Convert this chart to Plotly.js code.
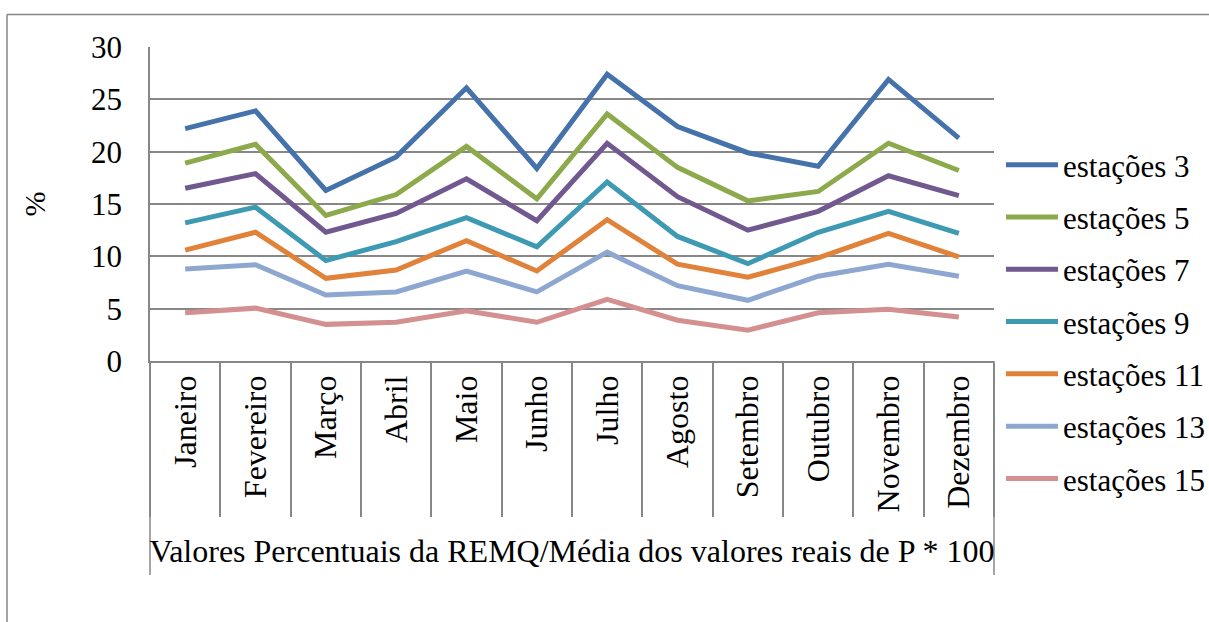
<!DOCTYPE html>
<html>
<head>
<meta charset="utf-8">
<script src="https://cdn.plot.ly/plotly-3.0.1.min.js"></script>
<style>
html,body{margin:0;padding:0;background:#fff;}
#chart{width:1209px;height:622px;}
</style>
</head>
<body>
<div id="chart"></div>
<script>
// ---- data ----
const months = ["Janeiro","Fevereiro","Março","Abril","Maio","Junho","Julho","Agosto","Setembro","Outubro","Novembro","Dezembro"];
const seriesNames = ["estações 3","estações 5","estações 7","estações 9","estações 11","estações 13","estações 15"];
const est3  = [22.2, 23.9, 16.3, 19.5, 26.1, 18.4, 27.4, 22.4, 19.9, 18.6, 26.9, 21.3];
const est5  = [18.9, 20.7, 13.9, 15.9, 20.5, 15.5, 23.6, 18.5, 15.3, 16.2, 20.8, 18.2];
const est7  = [16.5, 17.9, 12.3, 14.1, 17.4, 13.4, 20.8, 15.7, 12.5, 14.3, 17.7, 15.8];
const est9  = [13.2, 14.7,  9.6, 11.4, 13.7, 10.9, 17.1, 11.9,  9.3, 12.3, 14.3, 12.2];
const est11 = [10.6, 12.3,  7.9,  8.7, 11.5,  8.6, 13.5,  9.25, 8.0,  9.85,12.2,  9.95];
const est13 = [ 8.8,  9.2,  6.3,  6.6,  8.6,  6.6, 10.4,  7.2,  5.8,  8.1,  9.25, 8.1];
const est15 = [ 4.6,  5.05, 3.5,  3.7,  4.8,  3.7,  5.9,  3.9,  2.95, 4.6,  4.95, 4.2];
const yTicks = [0, 5, 10, 15, 20, 25, 30];
const xTitle = "Valores Percentuais da REMQ/Média dos valores reais de P * 100";
const yTitle = "%";

// ---- styling ----
const colors = ["#4572AB","#8CAA4B","#71588F","#3E9AB3","#E0823A","#8EA7D0","#D49090"];
const allSeries = [est3, est5, est7, est9, est11, est13, est15];
const FONT = "Liberation Serif, Times New Roman, serif";

const W = 1209, H = 622;
const L = 150, R = 994, T = 47, B = 361;
const px = x => (x - L) / (R - L);
const py = y => (B - y) / (B - T);

const traces = allSeries.map((vals, i) => ({
  type: "scatter",
  mode: "lines",
  x: months,
  y: vals,
  name: seriesNames[i],
  legendgroup: "g" + i,
  line: {color: colors[i], width: 5},
  hoverinfo: "x+y+name"
}));

const gray = "#878787";
const layout = {
  width: W, height: H,
  margin: {l: L, r: W - R, t: T, b: H - B, pad: 0, autoexpand: false},
  paper_bgcolor: "#ffffff",
  plot_bgcolor: "#ffffff",
  font: {family: FONT, color: "#000", size: 28},
  showlegend: true,
  legend: {
    x: px(1001), xanchor: "left",
    y: py(138), yanchor: "top",
    font: {family: FONT, size: 31, color: "#000"},
    itemwidth: 52,
    tracegroupgap: 9,
    maxheight: 600,
    bgcolor: "rgba(0,0,0,0)",
    borderwidth: 0
  },
  xaxis: {
    type: "category",
    range: [-0.5, 11.5],
    showgrid: false,
    showline: true, linecolor: gray, linewidth: 1.5,
    ticks: "outside", tickson: "boundaries", ticklen: 154, tickcolor: gray, tickwidth: 1.5,
    tickangle: -90,
    tickfont: {family: FONT, size: 32, color: "#000"},
    title: {text: xTitle, font: {family: FONT, size: 32, color: "#000"}, standoff: 28},
    fixedrange: true
  },
  yaxis: {
    range: [0, 30],
    tickvals: yTicks,
    ticktext: yTicks.map(String),
    showgrid: true, gridcolor: gray, gridwidth: 1.5,
    zeroline: false,
    showline: true, linecolor: gray, linewidth: 1.5,
    ticks: "",
    ticklabelstandoff: 20,
    tickfont: {family: FONT, size: 31, color: "#000"},
    title: {text: yTitle, font: {family: FONT, size: 30, color: "#000"}, standoff: 37},
    fixedrange: true
  },
  shapes: [
    {type: "line", xref: "paper", yref: "paper", x0: px(7), x1: px(7), y0: py(14.5), y1: py(630), line: {color: gray, width: 1.5}},
    {type: "line", xref: "paper", yref: "paper", x0: px(7), x1: px(1215), y0: py(14.5), y1: py(14.5), line: {color: gray, width: 1.5}},
    {type: "line", xref: "paper", yref: "paper", x0: 0, x1: 0, y0: 0, y1: py(575), line: {color: gray, width: 1.5}},
    {type: "line", xref: "paper", yref: "paper", x0: 1, x1: 1, y0: 0, y1: py(575), line: {color: gray, width: 1.5}}
  ]
};

Plotly.newPlot("chart", traces, layout, {displayModeBar: false});
</script>
</body>
</html>
